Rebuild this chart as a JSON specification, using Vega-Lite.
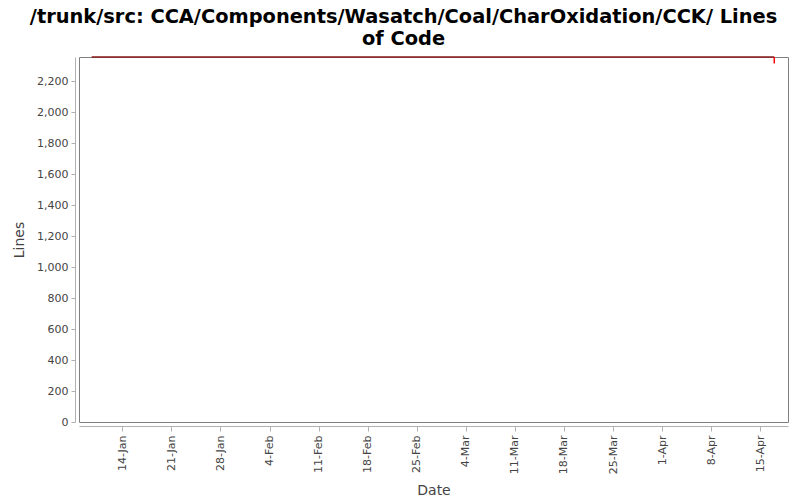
{
  "$schema": "https://vega.github.io/schema/vega-lite/v6.json",
  "autosize": {"type": "none"},
  "width": 709,
  "height": 365,
  "padding": {"left": 79, "top": 57, "right": 12, "bottom": 78},
  "background": "white",
  "title": {
    "text": ["/trunk/src: CCA/Components/Wasatch/Coal/CharOxidation/CCK/ Lines", "of Code"],
    "font": "DejaVu Sans",
    "fontSize": 19.4,
    "fontWeight": "bold",
    "color": "black",
    "anchor": "middle",
    "frame": "group",
    "offset": 5,
    "lineHeight": 22,
    "dx": -30
  },
  "config": {
    "view": {"stroke": "#808080", "strokeWidth": 1},
    "axis": {
      "labelFont": "DejaVu Sans",
      "labelFontSize": 11,
      "labelColor": "#444444",
      "titleFont": "DejaVu Sans",
      "titleFontSize": 14,
      "titleFontWeight": "normal",
      "titleColor": "#444444",
      "domainColor": "#b0b0b0",
      "tickColor": "#b0b0b0",
      "grid": false,
      "offset": 4,
      "labelOverlap": false
    }
  },
  "data": {
    "values": [
      {"date": "2007-01-09T15:00:00Z", "lines": 2357, "series": "loc"},
      {"date": "2007-04-17T00:00:00Z", "lines": 2357, "series": "loc"},
      {"date": "2007-04-17T00:00:00Z", "lines": 2357, "bottom": 2315, "series": "drop"}
    ]
  },
  "encoding": {
    "x": {
      "field": "date",
      "type": "temporal",
      "scale": {"type": "utc", "domain": ["2007-01-07T19:40:00Z", "2007-04-18T23:00:00Z"], "nice": false},
      "axis": {
        "title": "Date",
        "labelExpr": "utcFormat(datum.value, '%-d-%b')",
        "labelAngle": -90,
        "labelAlign": "right",
        "labelBaseline": "middle",
        "tickSize": 5,
        "labelPadding": 4,
        "titlePadding": 10,
        "values": [
          {"year": 2007, "month": 1, "date": 14, "utc": true},
          {"year": 2007, "month": 1, "date": 21, "utc": true},
          {"year": 2007, "month": 1, "date": 28, "utc": true},
          {"year": 2007, "month": 2, "date": 4, "utc": true},
          {"year": 2007, "month": 2, "date": 11, "utc": true},
          {"year": 2007, "month": 2, "date": 18, "utc": true},
          {"year": 2007, "month": 2, "date": 25, "utc": true},
          {"year": 2007, "month": 3, "date": 4, "utc": true},
          {"year": 2007, "month": 3, "date": 11, "utc": true},
          {"year": 2007, "month": 3, "date": 18, "utc": true},
          {"year": 2007, "month": 3, "date": 25, "utc": true},
          {"year": 2007, "month": 4, "date": 1, "utc": true},
          {"year": 2007, "month": 4, "date": 8, "utc": true},
          {"year": 2007, "month": 4, "date": 15, "utc": true}
        ]
      }
    },
    "y": {
      "field": "lines",
      "type": "quantitative",
      "scale": {"domain": [0, 2357], "nice": false, "zero": true},
      "axis": {
        "title": "Lines",
        "values": [0, 200, 400, 600, 800, 1000, 1200, 1400, 1600, 1800, 2000, 2200],
        "format": ",d",
        "tickSize": 4,
        "labelPadding": 3,
        "titlePadding": 10
      }
    }
  },
  "layer": [
    {
      "transform": [{"filter": "datum.series === 'loc'"}],
      "mark": {"type": "line", "color": "#8b1a1a", "strokeWidth": 1.5}
    },
    {
      "transform": [{"filter": "datum.series === 'drop'"}],
      "mark": {"type": "rule", "color": "#ff0000", "strokeWidth": 1.5},
      "encoding": {
        "y2": {"field": "bottom"}
      }
    }
  ]
}
